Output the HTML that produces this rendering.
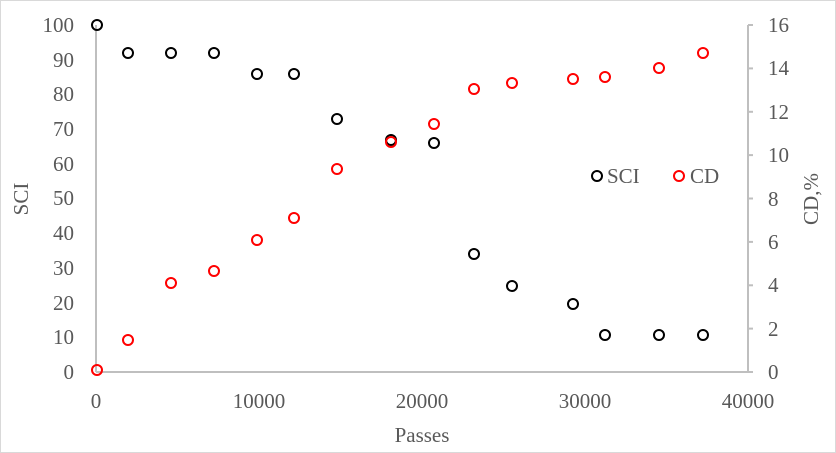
<!DOCTYPE html><html><head><style>body{margin:0;background:#fff}svg{display:block}text{font-family:"Liberation Serif",serif;fill:#595959;font-size:21px}</style></head><body>
<svg width="836" height="453" viewBox="0 0 836 453">
<rect x="0.5" y="0.5" width="835" height="452" fill="#fff" stroke="#d9d9d9"/>
<g stroke="#bfbfbf" stroke-width="2" fill="none">
<line x1="96" y1="372" x2="748" y2="372"/>
<line x1="96" y1="25" x2="96" y2="372"/>
<line x1="748" y1="25" x2="748" y2="372"/>
<line x1="748" y1="25" x2="753" y2="25"/><line x1="748" y1="68.4" x2="753" y2="68.4"/><line x1="748" y1="111.8" x2="753" y2="111.8"/><line x1="748" y1="155.1" x2="753" y2="155.1"/><line x1="748" y1="198.5" x2="753" y2="198.5"/><line x1="748" y1="241.9" x2="753" y2="241.9"/><line x1="748" y1="285.3" x2="753" y2="285.3"/><line x1="748" y1="328.6" x2="753" y2="328.6"/><line x1="748" y1="372" x2="753" y2="372"/>
</g>
<g text-anchor="end">
<text x="74" y="32">100</text><text x="74" y="67">90</text><text x="74" y="101">80</text><text x="74" y="136">70</text><text x="74" y="171">60</text><text x="74" y="205">50</text><text x="74" y="240">40</text><text x="74" y="275">30</text><text x="74" y="310">20</text><text x="74" y="344">10</text><text x="74" y="379">0</text>
</g>
<g>
<text x="768" y="32">16</text><text x="768" y="75">14</text><text x="768" y="119">12</text><text x="768" y="162">10</text><text x="768" y="206">8</text><text x="768" y="249">6</text><text x="768" y="292">4</text><text x="768" y="336">2</text><text x="768" y="379">0</text>
</g>
<g text-anchor="middle">
<text x="96" y="408">0</text><text x="259" y="408">10000</text><text x="422" y="408">20000</text><text x="585" y="408">30000</text><text x="748" y="408">40000</text>
<text x="422" y="442">Passes</text>
<text transform="translate(28,199) rotate(-90)">SCI</text>
<text transform="translate(818,199) rotate(-90)">CD,%</text>
</g>
<g fill="none" stroke="#000" stroke-width="2">
<circle cx="97" cy="25" r="5"/><circle cx="128" cy="53" r="5"/><circle cx="171" cy="53" r="5"/><circle cx="214" cy="53" r="5"/><circle cx="257" cy="74" r="5"/><circle cx="294" cy="74" r="5"/><circle cx="337" cy="119" r="5"/><circle cx="391" cy="140" r="5"/><circle cx="434" cy="143" r="5"/><circle cx="474" cy="254" r="5"/><circle cx="512" cy="286" r="5"/><circle cx="573" cy="304" r="5"/><circle cx="605" cy="335" r="5"/><circle cx="659" cy="335" r="5"/><circle cx="703" cy="335" r="5"/>
<circle cx="597" cy="176" r="5"/>
</g>
<g fill="none" stroke="#ff0000" stroke-width="2">
<circle cx="97" cy="370" r="5"/><circle cx="128" cy="340" r="5"/><circle cx="171" cy="283" r="5"/><circle cx="214" cy="271" r="5"/><circle cx="257" cy="240" r="5"/><circle cx="294" cy="218" r="5"/><circle cx="337" cy="169" r="5"/><circle cx="391" cy="142" r="5"/><circle cx="434" cy="124" r="5"/><circle cx="474" cy="89" r="5"/><circle cx="512" cy="83" r="5"/><circle cx="573" cy="79" r="5"/><circle cx="605" cy="77" r="5"/><circle cx="659" cy="68" r="5"/><circle cx="703" cy="53" r="5"/>
<circle cx="679" cy="176" r="5"/>
</g>
<text x="607" y="183">SCI</text><text x="690" y="183">CD</text>
</svg></body></html>
